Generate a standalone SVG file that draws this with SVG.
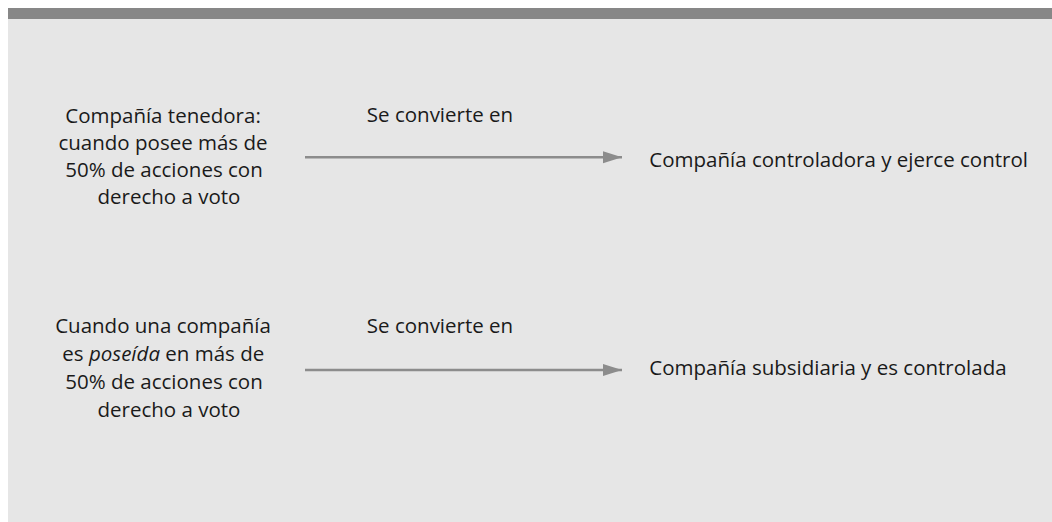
<svg xmlns="http://www.w3.org/2000/svg" width="1052" height="522" viewBox="0 0 1052 522">
  <defs>
    <style>
      .t { font-family: "Open Sans", "Liberation Sans", sans-serif; font-size: 20.5px; fill: #1a1a1a; }
      .c { text-anchor: middle; }
      .conn { stroke: #8c8c8c; stroke-width: 2.6; fill: none; }
    </style>
    <marker id="ah" markerUnits="userSpaceOnUse" markerWidth="20" markerHeight="14" refX="19" refY="6" orient="auto">
      <path d="M0,0 L19,6 L0,12 Z" fill="#8c8c8c"/>
    </marker>
  </defs>
  <rect x="0" y="0" width="1052" height="522" fill="#ffffff"/>
  <rect x="8" y="19" width="1044" height="503" fill="#e6e6e6"/>
  <rect x="8" y="8" width="1044" height="11" fill="#878787"/>

  <g id="connectors">
    <line class="conn" x1="305" y1="157.3" x2="622" y2="157.3" marker-end="url(#ah)"/>
    <line class="conn" x1="305" y1="370" x2="622" y2="370" marker-end="url(#ah)"/>
  </g>

  <g id="node-tenedora">
    <text class="t c" x="163" y="122.7">Compañía tenedora:</text>
    <text class="t c" x="163" y="149.7">cuando posee más de</text>
    <text class="t c" x="164" y="176.7">50% de acciones con</text>
    <text class="t c" x="169" y="203.7">derecho a voto</text>
  </g>
  <g id="label-1">
    <text class="t c" x="440" y="122.2">Se convierte en</text>
  </g>
  <g id="node-controladora">
    <text class="t" x="649.3" y="166.7">Compañía controladora y ejerce control</text>
  </g>

  <g id="node-poseida">
    <text class="t c" x="163" y="333.3">Cuando una compañía</text>
    <text class="t c" x="163.3" y="361">es <tspan font-style="italic">poseída</tspan> en más de</text>
    <text class="t c" x="164" y="388.8">50% de acciones con</text>
    <text class="t c" x="169" y="416.5">derecho a voto</text>
  </g>
  <g id="label-2">
    <text class="t c" x="440" y="333.3">Se convierte en</text>
  </g>
  <g id="node-subsidiaria">
    <text class="t" x="649.3" y="375">Compañía subsidiaria y es controlada</text>
  </g>
</svg>
